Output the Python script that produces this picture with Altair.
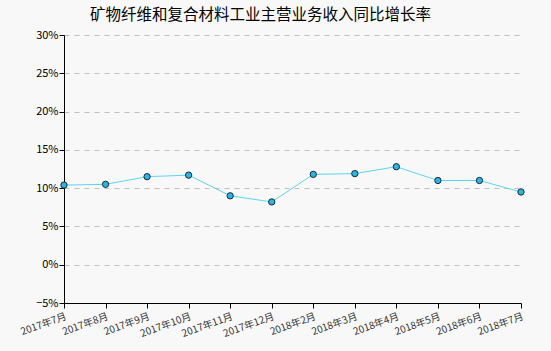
import altair as alt
import pandas as pd

months = ["2017年7月", "2017年8月", "2017年9月", "2017年10月", "2017年11月", "2017年12月",
          "2018年2月", "2018年3月", "2018年4月", "2018年5月", "2018年6月", "2018年7月"]
values = [10.4, 10.5, 11.5, 11.7, 9.0, 8.2, 11.8, 11.9, 12.8, 11.0, 11.0, 9.5]

df = pd.DataFrame({"month": months, "value": values})

FONT = "Noto Sans CJK SC"

x = alt.X("month:N", sort=months, title=None,
          scale=alt.Scale(type="point", padding=0),
          axis=alt.Axis(labelAngle=-20, labelAlign="right", labelBaseline="top",
                        labelFontSize=10, labelColor="#333333", labelFont=FONT,
                        domainColor="#000000", tickColor="#000000", tickSize=5,
                        labelPadding=3, grid=False, labelOverlap=False))
y = alt.Y("value:Q", title=None,
          scale=alt.Scale(domain=[-5, 30], nice=False, zero=False),
          axis=alt.Axis(values=[-5, 0, 5, 10, 15, 20, 25, 30],
                        labelExpr="format(datum.value, 'd') + '%'",
                        labelFontSize=11, labelColor="#000000", labelFont=FONT,
                        domainColor="#000000", tickColor="#000000", tickSize=5,
                        gridColor="#c0c0c0", gridDash=[5, 5], grid=True, labelPadding=1))

line = alt.Chart(df).mark_line(color="#5fd3f3", strokeWidth=1).encode(x=x, y=y)
points = alt.Chart(df).mark_point(filled=True, fill="#2bb5e3", stroke="#1a2a33",
                                   strokeWidth=1, size=40, opacity=1).encode(x=x, y=y)

chart = (line + points).properties(
    width=457, height=268,
    title=alt.TitleParams("矿物纤维和复合材料工业主营业务收入同比增长率", fontSize=15.5,
                          font=FONT, fontWeight="normal", color="#000000", offset=6, dx=-32),
    background="#f8f8f8",
    padding={"left": 64, "top": 35, "right": 30, "bottom": 48},
    autosize=alt.AutoSizeParams(type="none"),
).configure_view(stroke=None)

chart.save("out.html", embed_options={"renderer": "svg", "actions": False})
